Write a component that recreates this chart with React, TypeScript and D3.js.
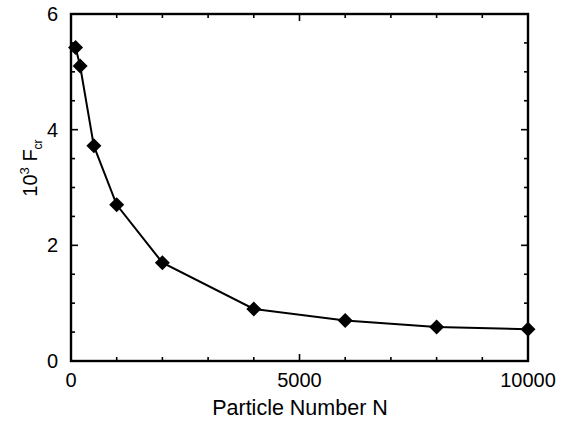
import React from "react";
import * as d3 from "d3";

const particleN = [100, 200, 500, 1000, 2000, 4000, 6000, 8000, 10000];
const fcr = [5.42, 5.1, 3.72, 2.7, 1.7, 0.9, 0.7, 0.59, 0.55];
const xTicks = [0, 5000, 10000];
const yTicks = [0, 2, 4, 6];

const W = 569, H = 424;
const m = { left: 71, right: 569 - 528, top: 14, bottom: 424 - 361 };

export default function App() {
  const x = d3.scaleLinear().domain([0, 10000]).range([m.left, W - m.right]);
  const y = d3.scaleLinear().domain([0, 6]).range([H - m.bottom, m.top]);
  const line = d3.line<number>().x((_, i) => x(particleN[i])).y((d) => y(d));
  const minorX = d3.range(0, 10001, 1000);
  const minorY = d3.range(0, 6.01, 0.5);
  const font = "'Liberation Sans', Arial, sans-serif";
  const diamond = (cx: number, cy: number, r: number) =>
    `M${cx},${cy - r}L${cx + r},${cy}L${cx},${cy + r}L${cx - r},${cy}Z`;
  const x0 = x(0), x1 = x(10000), y0 = y(0), y1 = y(6);
  return (
    <svg width={W} height={H} style={{ position: "absolute", left: 0, top: 0 }}>
      <rect width={W} height={H} fill="#fff" />
      {minorX.map((t) => {
        const len = t % 5000 === 0 ? 7 : 4;
        return (
          <g key={"x" + t}>
            <line x1={x(t)} x2={x(t)} y1={y0} y2={y0 - len} stroke="#000" strokeWidth={1.6} />
            <line x1={x(t)} x2={x(t)} y1={y1} y2={y1 + len} stroke="#000" strokeWidth={1.6} />
          </g>
        );
      })}
      {minorY.map((t) => {
        const len = Math.abs(t % 2) < 1e-9 ? 7 : 4;
        return (
          <g key={"y" + t}>
            <line x1={x0} x2={x0 + len} y1={y(t)} y2={y(t)} stroke="#000" strokeWidth={1.6} />
            <line x1={x1} x2={x1 - len} y1={y(t)} y2={y(t)} stroke="#000" strokeWidth={1.6} />
          </g>
        );
      })}
      <rect x={x0} y={y1} width={x1 - x0} height={y0 - y1} fill="none" stroke="#000" strokeWidth={2.4} />
      <path d={line(fcr) || ""} fill="none" stroke="#000" strokeWidth={2} />
      {fcr.map((v, i) => (
        <path key={i} d={diamond(x(particleN[i]), y(v), 7.5)} fill="#000" />
      ))}
      {xTicks.map((t) => (
        <text key={"xl" + t} x={x(t)} y={y0 + 26} textAnchor="middle" fontFamily={font} fontSize={20}>
          {t}
        </text>
      ))}
      {yTicks.map((t) => (
        <text key={"yl" + t} x={x0 - 13} y={y(t) + 7} textAnchor="end" fontFamily={font} fontSize={20}>
          {t}
        </text>
      ))}
      <text x={300} y={415} textAnchor="middle" fontFamily={font} fontSize={21.5}>
        Particle Number N
      </text>
      <text transform={`translate(37,168) rotate(-90)`} textAnchor="middle" fontFamily={font} fontSize={20}>
        10<tspan dy={-8} fontSize={13}>3</tspan>
        <tspan dy={8}> F</tspan>
        <tspan dy={5} fontSize={12}>cr</tspan>
      </text>
    </svg>
  );
}
